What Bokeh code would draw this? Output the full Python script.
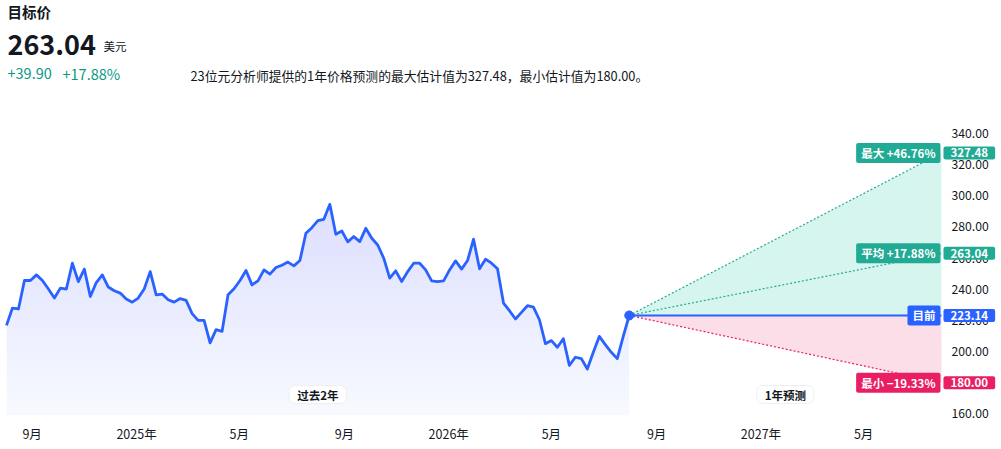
import pandas as pd
from bokeh.plotting import figure
from bokeh.models import Label, FixedTicker, Range1d, NumeralTickFormatter
from bokeh.embed import file_html
from bokeh.resources import INLINE

FONT = "Noto Sans CJK SC"

# ---------------- data ----------------
history_end = "2026-07-31"
forecast_end = "2027-07-31"
view_start = "2024-07-26"
view_end = "2027-10-08"
prices = [216.8, 227.9, 227.3, 245.6, 245.6, 249.2, 245.6, 240.1, 234.3, 240.7,
          240.1, 256.7, 244.9, 252.9, 235.3, 244.3, 249.2, 241.4, 239.0, 237.5,
          233.7, 231.7, 234.3, 240.1, 251.3, 236.4, 236.9, 233.2, 231.7, 234.0,
          232.8, 224.3, 220.0, 220.0, 205.5, 214.0, 212.9, 236.4, 240.3, 245.6,
          252.0, 242.8, 245.4, 252.4, 249.7, 253.9, 255.4, 257.4, 255.0, 258.4,
          275.9, 279.5, 284.0, 284.9, 294.5, 275.3, 277.4, 270.4, 273.8, 270.6,
          279.1, 272.7, 268.4, 259.9, 247.1, 251.8, 244.9, 251.3, 256.7, 256.7,
          252.4, 245.4, 244.9, 245.4, 252.4, 258.2, 252.9, 258.4, 272.1, 253.1,
          259.3, 256.7, 253.1, 231.1, 226.2, 220.9, 225.1, 229.4, 228.5, 220.4,
          205.0, 207.0, 202.7, 208.2, 191.1, 196.3, 195.4, 188.8, 199.5, 209.7,
          204.4, 199.5, 195.4, 209.7, 223.14]
current = 223.14
target_avg = 263.04
target_max = 327.48
target_min = 180.00
analysts = 23
y_ticks = [160, 180, 200, 220, 240, 260, 280, 300, 320, 340]
x_tick_dates = ["2024-09-01", "2025-01-01", "2025-05-01", "2025-09-01", "2026-01-01",
                "2026-05-01", "2026-09-01", "2027-01-01", "2027-05-01"]
x_tick_labels = ["9月", "2025年", "5月", "9月", "2026年", "5月", "9月", "2027年", "5月"]
gradient_levels = list(range(165, 300, 5))

# ---------------- colours ----------------
BLUE = "#2962ff"
GREEN = "#22ab94"
PINK = "#e91e63"
TEXT = "#131722"

dates = pd.date_range(end=history_end, periods=len(prices), freq="7D")
now = dates[-1]
end = pd.Timestamp(forecast_end)
y_lo, y_hi = 158.9, 425.4

p = figure(width=1000, height=445, output_backend="svg", toolbar_location=None,
           x_axis_type="datetime", y_axis_location="right",
           x_range=Range1d(pd.Timestamp(view_start), pd.Timestamp(view_end)),
           y_range=Range1d(y_lo, y_hi),
           min_border_left=0, min_border_top=0, min_border_right=0, min_border_bottom=0)
p.outline_line_color = None
p.grid.grid_line_color = None
p.background_fill_color = "white"
p.border_fill_color = "white"

# history area (vertical gradient imitation)
p.varea(x=dates, y1=[y_lo] * len(prices), y2=prices, fill_color="#f7f9ff")
for lv in gradient_levels:
    p.varea(x=dates, y1=[lv] * len(prices), y2=[max(v, lv) for v in prices],
            fill_color="#3d6eff", fill_alpha=0.004)
p.line(dates, prices, line_color=BLUE, line_width=2.8, line_join="round")

# forecast fans
fx = [now, end]
p.varea(x=fx, y1=[current, current], y2=[current, target_max], fill_color="#d5f5ee")
p.varea(x=fx, y1=[current, target_min], y2=[current, current], fill_color="#fcdee8")
p.line(fx, [current, target_max], line_color=GREEN, line_width=1.2, line_dash="2 2")
p.line(fx, [current, target_avg], line_color=GREEN, line_width=1.2, line_dash="2 2")
p.line(fx, [current, target_min], line_color=PINK, line_width=1.2, line_dash="2 2")
p.line(fx, [current, current], line_color=BLUE, line_width=2)
p.scatter([now], [current], size=9, color=BLUE)

# axes
xa = p.xaxis[0]
xa.ticker = FixedTicker(ticks=[int(pd.Timestamp(d).value // 10**6) for d in x_tick_dates])
xa.major_label_overrides = {int(pd.Timestamp(d).value // 10**6): l
                            for d, l in zip(x_tick_dates, x_tick_labels)}
ya = p.yaxis[0]
ya.ticker = FixedTicker(ticks=y_ticks)
ya.formatter = NumeralTickFormatter(format="0.00")
for ax in (xa, ya):
    ax.axis_line_color = None
    ax.major_tick_line_color = None
    ax.minor_tick_line_color = None
    ax.major_tick_out = 0
    ax.major_tick_in = 0
    ax.minor_tick_out = 0
    ax.minor_tick_in = 0
    ax.major_label_text_font = FONT
    ax.major_label_text_color = TEXT
xa.major_label_text_font_size = "12.5px"
ya.major_label_text_font_size = "12.2px"
xa.major_label_standoff = 8
ya.major_label_standoff = -49

# badges
def badge(txt, yv, color, side):
    if side == "right":
        lab = Label(x=end, y=yv, text=txt, text_align="left", text_baseline="middle",
                    x_offset=2)
    else:
        lab = Label(x=end, y=yv, text=txt, text_align="right", text_baseline="middle",
                    x_offset=-1)
    lab.text_font = FONT
    lab.text_font_size = "11.5px"
    lab.text_font_style = "bold"
    lab.text_color = "white"
    lab.background_fill_color = color
    lab.border_radius = 2
    lab.padding = dict(x=7 if side == "right" else 5, y=2)
    p.add_layout(lab)

badge(f"{target_max:.2f}", target_max, GREEN, "right")
badge(f"最大 +{(target_max / current - 1) * 100:.2f}%", target_max, GREEN, "left")
badge(f"{target_avg:.2f}", target_avg, GREEN, "right")
badge(f"平均 +{(target_avg / current - 1) * 100:.2f}%", target_avg, GREEN, "left")
badge(f"{current:.2f}", current, BLUE, "right")
badge("目前", current, BLUE, "left")
badge(f"{target_min:.2f}", target_min, PINK, "right")
badge(f"最小 −{(1 - target_min / current) * 100:.2f}%", target_min, PINK, "left")

# period pills
for txt, xv in (("过去2年", dates[0] + (now - dates[0]) / 2), ("1年预测", now + (end - now) / 2)):
    p.add_layout(Label(x=xv, y=21, y_units="screen", text=txt, text_align="center",
                       text_baseline="middle", text_font=FONT, text_font_size="11.5px",
                       text_font_style="bold", text_color=TEXT,
                       background_fill_color="white", border_line_color="#efefef",
                       border_radius=6, padding=dict(x=8, y=1)))

# header
def hdr(txt, x, y, size, color=TEXT, bold=False):
    p.add_layout(Label(x=x, y=y, x_units="screen", y_units="screen", text=txt,
                       text_font=FONT, text_font_size=size, text_color=color,
                       text_font_style="bold" if bold else "normal",
                       text_baseline="alphabetic", text_align="left"))

chg = target_avg - current
hdr("目标价", 7, 404.5, "14.5px", bold=True)
hdr(f"{target_avg:.2f}", 7, 371, "27px", bold=True)
hdr("美元", 103, 370, "11.5px")
hdr(f"+{chg:.2f}", 7, 341.7, "14.5px", color="#089981")
hdr(f"+{chg / current * 100:.2f}%", 62, 341.7, "14.5px", color="#089981")
hdr(f"{analysts}位元分析师提供的1年价格预测的最大估计值为{target_max:.2f}，最小估计值为{target_min:.2f}。",
    190, 340.5, "12.8px")

open("out.html", "w").write(file_html(p, INLINE))
